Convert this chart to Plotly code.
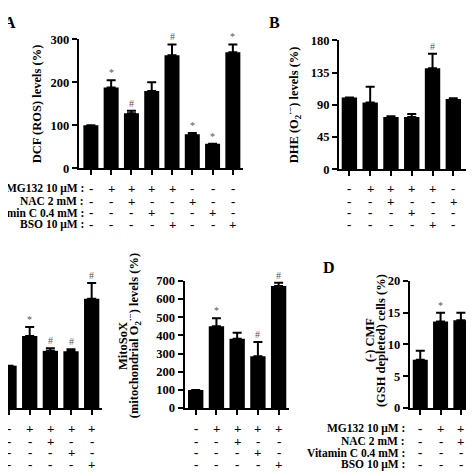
import plotly.graph_objects as go

# ---------------- data ----------------
row_labels = ["MG132 10 μM :", "NAC 2 mM :", "Vitamin C 0.4 mM :", "BSO 10 μM :"]

a_values = [100, 188, 128, 180, 263, 79, 57, 270]
a_err_top = [100, 205, 134, 200, 288, 82, 57, 288]
a_marks = ["", "*", "#", "", "#", "*", "*", "*"]
a_rows = [["-", "+", "+", "+", "+", "-", "-", "-"],
          ["-", "-", "+", "-", "-", "+", "-", "-"],
          ["-", "-", "-", "+", "-", "-", "+", "-"],
          ["-", "-", "-", "-", "+", "-", "-", "+"]]
a_ticks = [0, 100, 200, 300]

b_values = [100, 93, 73, 73, 141, 98, 81]
b_err_top = [100, 115, 74, 77, 161, 99, 81]
b_marks = ["", "", "", "", "#", "", "*"]
b_rows = [["-", "+", "+", "+", "+", "-", "-"],
          ["-", "-", "+", "-", "-", "+", "-"],
          ["-", "-", "-", "+", "-", "-", "+"],
          ["-", "-", "-", "-", "+", "-", "-"]]
b_ticks = [0, 45, 90, 135, 180]

c1_values = [100, 170, 135, 134, 258]
c1_err_top = [100, 191, 141, 139, 295]
c1_marks = ["", "*", "#", "#", "#"]
c_rows = [["-", "+", "+", "+", "+"],
          ["-", "-", "+", "-", "-"],
          ["-", "-", "-", "+", "-"],
          ["-", "-", "-", "-", "+"]]

c2_values = [100, 450, 382, 285, 672]
c2_err_top = [100, 495, 415, 364, 690]
c2_marks = ["", "*", "", "#", "#"]
c2_ticks = [0, 100, 200, 300, 400, 500, 600, 700]

d_values = [7.6, 13.6, 13.8, 12.8]
d_err_top = [9.0, 15.0, 15.0, 13.5]
d_marks = ["", "*", "", ""]
d_rows = [["-", "+", "+", "-"],
          ["-", "-", "+", "-"],
          ["-", "-", "-", "-"],
          ["-", "-", "-", "-"]]
d_ticks = [0, 5, 10, 15, 20]

# ---------------- layout helpers ----------------
W = 474
def px(p):
    return p / W
def py(p):
    return 1 - p / W

FONT = "Liberation Serif"
fig = go.Figure()
annotations = []

def panel(idx, values, err_top, marks, rows, xdom, xrange, ydom, yrange, ticks,
          row_y, show_y=True):
    xa = "x" if idx == 1 else f"x{idx}"
    ya = "y" if idx == 1 else f"y{idx}"
    n = len(values)
    xs = list(range(n))
    fig.add_trace(go.Bar(
        x=xs, y=values, xaxis=xa, yaxis=ya, width=0.74,
        marker=dict(color="black", line=dict(width=0)),
        error_y=dict(type="data", symmetric=False,
                     array=[t - v for t, v in zip(err_top, values)],
                     arrayminus=[0] * n, color="black", thickness=2, width=4.5),
        showlegend=False, hoverinfo="skip"))
    xkey = "xaxis" if idx == 1 else f"xaxis{idx}"
    ykey = "yaxis" if idx == 1 else f"yaxis{idx}"
    fig.layout[xkey] = dict(domain=[px(xdom[0]), px(xdom[1])], range=xrange,
                            anchor=ya, showline=True, linecolor="black", linewidth=2,
                            ticks="outside", ticklen=5, tickwidth=2, tickcolor="black",
                            tickvals=xs, showticklabels=False, showgrid=False,
                            zeroline=False, fixedrange=True)
    fig.layout[ykey] = dict(domain=[py(ydom[1]), py(ydom[0])], range=yrange,
                            anchor=xa, showline=show_y, linecolor="black", linewidth=2,
                            ticks="outside" if show_y else "", ticklen=5, tickwidth=2,
                            tickcolor="black", tickvals=ticks, showticklabels=show_y,
                            tickfont=dict(family=FONT, size=12.5, color="black", weight="bold"),
                            showgrid=False, zeroline=False, fixedrange=True)
    for i, m in enumerate(marks):
        if m:
            annotations.append(dict(x=i, y=err_top[i], xref=xa, yref=ya, text=m,
                                    showarrow=False, yanchor="bottom", yshift=0,
                                    font=dict(family=FONT, size=10, color="#555")))
    for r, row in enumerate(rows):
        for i, s in enumerate(row):
            annotations.append(dict(x=i, y=py(row_y[r]), xref=xa, yref="paper", text=s,
                                    showarrow=False, yanchor="middle",
                                    font=dict(family=FONT, size=13, color="#000000", weight="bold")))

rowsAB = [179, 192, 204, 216]
rowsCD = [426, 439, 451, 463]

panel(1, a_values, a_err_top, a_marks, a_rows, (70.7, 235), [-0.6, 7.5],
      (25, 158), [0, 300], a_ticks, rowsAB)
panel(2, b_values, b_err_top, b_marks, b_rows, (331, 474), [-0.5, 6.38],
      (26, 159), [0, 180], b_ticks, rowsAB)
panel(3, c1_values, c1_err_top, c1_marks, c_rows, (0, 94), [-0.05, 4.5],
      (274, 405), [0, 300], [], rowsCD, show_y=False)
panel(4, c2_values, c2_err_top, c2_marks, c_rows, (176.5, 281), [-0.54, 4.5],
      (274, 405), [0, 700], c2_ticks, rowsCD)
panel(5, d_values, d_err_top, d_marks, d_rows, (401.7, 474), [-0.52, 3.04],
      (274, 405), [0, 20], d_ticks, rowsCD)

# treatment row labels
for r, lab in enumerate(row_labels):
    annotations.append(dict(x=px(78), y=py(rowsAB[r]), xref="paper", yref="paper",
                            text=lab, showarrow=False, xanchor="right", yanchor="middle",
                            font=dict(family=FONT, size=11.5, color="black", weight="bold")))
    annotations.append(dict(x=px(399), y=py(rowsCD[r]), xref="paper", yref="paper",
                            text=lab, showarrow=False, xanchor="right", yanchor="middle",
                            font=dict(family=FONT, size=11.5, color="black", weight="bold")))

# y-axis titles
def ytitle(text, x, y, size=12.5):
    annotations.append(dict(x=px(x), y=py(y), xref="paper", yref="paper", text=text,
                            textangle=-90, showarrow=False, xanchor="center", yanchor="middle",
                            font=dict(family=FONT, size=size, color="black", weight="bold")))

ytitle("DCF (ROS) levels (%)", 29, 92)
ytitle("DHE (O<sub>2</sub><sup>·−</sup>) levels (%)", 286, 93)
ytitle("MitoSoX", 115, 341)
ytitle("(mitochondrial O<sub>2</sub><sup>·−</sup>) levels (%)", 126, 330)
ytitle("(-) CMF", 362, 335)
ytitle("(GSH depleted) cells (%)", 373, 336)

# panel letters
for t, x, y in [("A", 2, 8), ("B", 266, 8), ("D", 321, 260)]:
    annotations.append(dict(x=px(x), y=py(y), xref="paper", yref="paper", text=t,
                            showarrow=False, xanchor="center", yanchor="middle",
                            font=dict(family=FONT, size=16, color="black", weight="bold")))

fig.update_layout(width=W, height=W, margin=dict(l=0, r=0, t=0, b=0),
                  paper_bgcolor="white", plot_bgcolor="white",
                  annotations=annotations, showlegend=False)
fig.write_html("out.html")
